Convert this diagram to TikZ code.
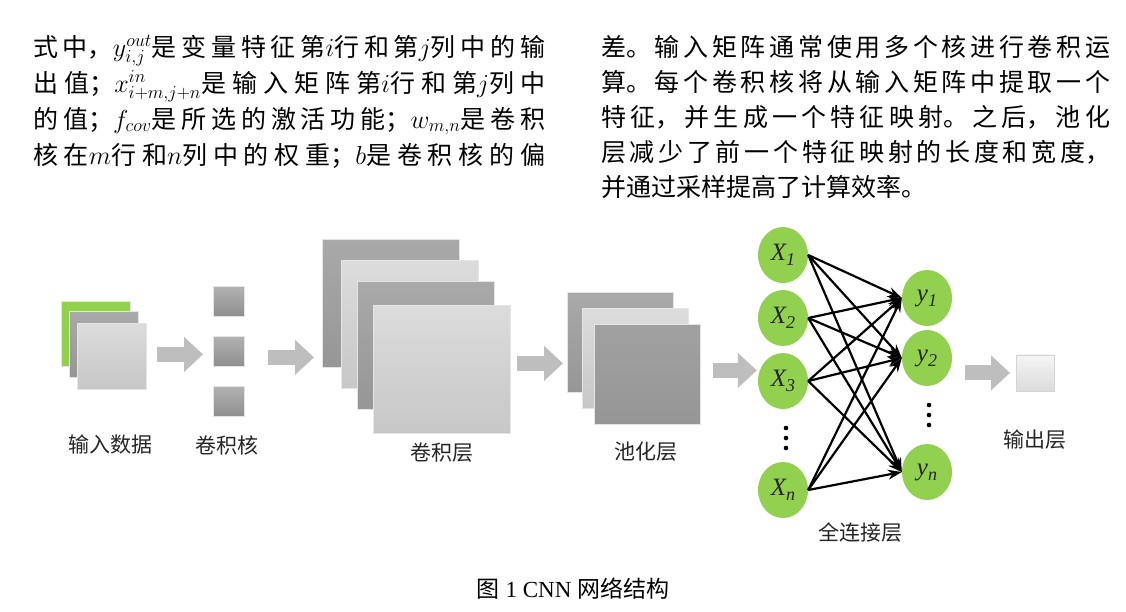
\RequirePackage{fix-cm}
\documentclass[tikz,border=0pt]{standalone}
\usepackage{fontspec}
\setmainfont{Liberation Serif}
\newfontfamily\cjk{Noto Sans CJK SC}
\usetikzlibrary{shapes.geometric,arrows.meta,positioning}
\XeTeXlinebreaklocale "zh"
\XeTeXlinebreakskip=0pt plus 10pt

\definecolor{netgreen}{HTML}{92D050}
\definecolor{sheetdarkA}{HTML}{A9A9A9}
\definecolor{sheetdarkB}{HTML}{969696}
\definecolor{sheetlightA}{HTML}{DCDCDC}
\definecolor{sheetlightB}{HTML}{C7C7C7}
\definecolor{flowgray}{HTML}{BEBEBE}

\newcommand{\nsub}[1]{\raisebox{-5pt}{\fontsize{18}{18}\selectfont #1}}
\newcommand{\mv}[1]{{\fontsize{26}{36}\selectfont$#1$}}

\tikzset{
  para/.style={anchor=base west, inner sep=0pt, text width=#1, align=justify,
    font={\cjk\fontsize{25}{36}\selectfont\parindent=0pt},
    execute at begin node={\parfillskip=0pt\relax}},
  sheet/.style={anchor=north west, inner sep=0pt, draw=black!10, line width=0.8pt},
  dark/.style={sheet, top color=sheetdarkA, bottom color=sheetdarkB},
  light/.style={sheet, top color=sheetlightA, bottom color=sheetlightB},
  lab/.style={font=\cjk\fontsize{21}{21}\selectfont, text=black!85},
  flow/.style={draw=flowgray, line width=15pt, -{Triangle[width=34pt,length=19pt]}},
  neuron/.style={ellipse, fill=netgreen, minimum width=50pt, minimum height=56pt,
    inner sep=0pt, font=\fontsize{25}{25}\selectfont\itshape, text=black!85},
  wire/.style={line width=2.2pt, -{Stealth[length=14pt,width=10pt]}},
}

\begin{document}
\begin{tikzpicture}[x=1pt,y=1pt]
	\path[use as bounding box, fill=white] (0,0) rectangle (1126,-611);

	% text above the figure
	\node[para=512pt] (t1) at (33,-56) {式中，\mv{y^{out}_{i,j}}是变量特征第\mv{i}行和第\mv{j}列中的输};
	\node[para=512pt] (t2) at (33,-92) {出值；\mv{x^{in}_{i+m,j+n}}是输入矩阵第\mv{i}行和第\mv{j}列中};
	\node[para=512pt] (t3) at (33,-128) {的值；\mv{f_{cov}}是所选的激活功能；\mv{w_{m,n}}是卷积};
	\node[para=512pt] (t4) at (33,-164) {核在\mv{m}行和\mv{n}列中的权重；\mv{b}是卷积核的偏};

	\node[para=509pt] (r1) at (601,-56) {差。输入矩阵通常使用多个核进行卷积运};
	\node[para=509pt] (r2) at (601,-91) {算。每个卷积核将从输入矩阵中提取一个};
	\node[para=509pt] (r3) at (601,-126) {特征，并生成一个特征映射。之后，池化};
	\node[para=509pt] (r4) at (601,-161) {层减少了前一个特征映射的长度和宽度，};
	\node[anchor=base west, inner sep=0pt, font=\cjk\fontsize{25}{36}\selectfont] (r5) at (601,-196) {并通过采样提高了计算效率。};

	% input data
	\node[sheet, fill=netgreen, minimum width=69pt, minimum height=65pt] (inp1) at (61,-301) {};
	\node[dark, minimum width=69pt, minimum height=66pt] (inp2) at (69,-311) {};
	\node[light, minimum width=69pt, minimum height=66pt] (inp3) at (77,-323) {};

	% kernels
	\foreach \k/\y in {1/286,2/336,3/386}
		\node[sheet, top color=sheetdarkA!90!white, bottom color=sheetdarkB!95!black,
			minimum width=31pt, minimum height=30pt] (ker\k) at (213,-\y) {};

	% convolution layer
	\node[dark, minimum width=137pt, minimum height=128pt] (c1) at (322,-239) {};
	\node[light, minimum width=137pt, minimum height=128pt] (c2) at (341,-260) {};
	\node[dark, minimum width=137pt, minimum height=128pt] (c3) at (357,-281) {};
	\node[light, minimum width=137pt, minimum height=128pt] (c4) at (373,-305) {};

	% pooling layer
	\node[dark, minimum width=106pt, minimum height=100pt] (p1) at (567,-292) {};
	\node[light, minimum width=106pt, minimum height=100pt] (p2) at (582,-308) {};
	\node[dark, top color=sheetdarkA!95!black, minimum width=106pt, minimum height=100pt] (p3) at (594,-324) {};

	% fully connected layer
	\node[neuron] (x1) at (783,-255) {X\nsub{1}};
	\node[neuron] (x2) at (783,-318) {X\nsub{2}};
	\node[neuron] (x3) at (783,-381) {X\nsub{3}};
	\node[neuron] (xn) at (783,-490) {X\nsub{n}};
	\node[neuron] (y1) at (927,-298) {y\nsub{1}};
	\node[neuron] (y2) at (927,-358) {y\nsub{2}};
	\node[neuron] (yn) at (927,-472) {y\nsub{n}};
	\foreach \d in {-10,0,10} {
		\fill (786,-438+\d) circle (2.3);
		\fill (929,-415+\d) circle (2.3);
	}
	\foreach \i in {x1,x2,x3,xn}
		\foreach \j in {y1,y2,yn}
			\draw[wire] (\i.east) -- (\j.west);

	% output
	\node[sheet, draw=black!17, top color=white!96!black, bottom color=white!86!black,
		minimum width=38pt, minimum height=36pt] (outp) at (1016,-354.5) {};

	% flow arrows
	\draw[flow, shorten <=10pt, shorten >=10pt] ([yshift=2pt]inp3.east) -- ([yshift=2pt]inp3.east -| ker2.west);
	\draw[flow, shorten <=23pt, shorten >=8pt] ([yshift=-6pt]ker2.east) -- ([yshift=-6pt]ker2.east -| c1.west);
	\draw[flow, shorten <=6pt, shorten >=4pt] ([yshift=6pt]c4.east) -- ([yshift=6pt]c4.east -| p1.west);
	\draw[flow, shorten <=12pt, shorten >=1pt] ([yshift=4pt]p3.east) -- ([yshift=4pt]p3.east -| x3.west);
	\draw[flow, shorten <=13pt, shorten >=6pt] (outp.west -| y2.east) -- (outp.west);

	% labels
	\node[lab] (linp) at (110.5,-445) {输入数据};
	\node[lab] (lker) at (227,-445) {卷积核};
	\node[lab] (lconv) at (441.7,-453) {卷积层};
	\node[lab] (lpool) at (646,-452) {池化层};
	\node[lab] (lfc) at (860,-532) {全连接层};
	\node[lab] (lout) at (1035,-440) {输出层};

	\node[font=\fontsize{23}{23}\selectfont] (cap) at (573,-589) {{\cjk 图} 1 CNN {\cjk 网络结构}};
\end{tikzpicture}
\end{document}
